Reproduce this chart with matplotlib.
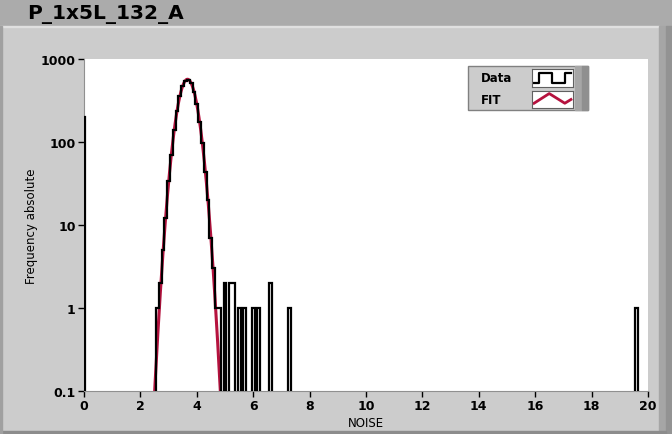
import matplotlib
matplotlib.use("Agg")
import matplotlib.pyplot as plt
import numpy as np
from matplotlib.patches import Rectangle
from matplotlib.ticker import FixedLocator, FixedFormatter, NullLocator

# histogram data (bin width 0.1, only non-empty bins listed)
bin_width = 0.1
bin_centers = [0.0,
               2.6, 2.7, 2.8, 2.9, 3.0, 3.1, 3.2, 3.3, 3.4, 3.5, 3.6, 3.7,
               3.8, 3.9, 4.0, 4.1, 4.2, 4.3, 4.4, 4.5, 4.6, 4.7, 4.8,
               5.0, 5.2, 5.3, 5.5, 5.7, 6.0, 6.2, 6.6, 7.3, 19.6]
counts = [200,
          1, 2, 5, 12, 34, 70, 141, 236, 362, 470, 548, 566,
          515, 405, 288, 172, 97, 44, 20, 7, 3, 1, 1,
          2, 2, 2, 1, 1, 1, 1, 2, 1, 1]

# gaussian fit parameters
fit_amp = 570.0
fit_mu = 3.67
fit_sigma = 0.28

x_ticks = [0, 2, 4, 6, 8, 10, 12, 14, 16, 18, 20]
y_ticks = [0.1, 1, 10, 100, 1000]
y_labels = ["0.1", "1", "10", "100", "1000"]

W, H = 672, 435
def fx(px):
    return px / W
def fy(py):
    return 1 - py / H

fig = plt.figure(figsize=(6.72, 4.35), dpi=100)
fig.patch.set_facecolor("#cccccc")

# frame decoration
fig.add_artist(Rectangle((0, fy(27)), 1, 27 / H, transform=fig.transFigure,
                         color="#ababab", zorder=0))
fig.add_artist(Rectangle((0, fy(28)), fx(659), 1 / H, transform=fig.transFigure,
                         color="#e0e0e0", zorder=0))
fig.add_artist(Rectangle((fx(659), 0), 7 / W, fy(27), transform=fig.transFigure,
                         color="#a6a6a6", zorder=0))
fig.add_artist(Rectangle((fx(666), 0), 6 / W, fy(27), transform=fig.transFigure,
                         color="#939393", zorder=0))
fig.add_artist(Rectangle((0, 0), fx(666), 3 / H, transform=fig.transFigure,
                         color="#8c8c8c", zorder=0))
fig.add_artist(Rectangle((0, 0), 2 / W, fy(27), transform=fig.transFigure,
                         color="#a0a0a0", zorder=0))
fig.text(fx(27), fy(14.5), "P_1x5L_132_A", fontsize=14.5, fontweight="bold",
         va="center", ha="left", color="black")

ax = fig.add_axes([fx(84), fy(392), (648 - 84) / W, (392 - 60) / H])
ax.set_facecolor("white")

# full histogram
n_bins = 200
edges = np.arange(n_bins + 1) * bin_width - bin_width / 2
hist = np.zeros(n_bins)
for c, v in zip(bin_centers, counts):
    hist[int(round(c / bin_width))] = v
ax.stairs(np.where(hist > 0, hist, 1e-3), edges, baseline=None,
          color="black", lw=1.6, zorder=3)

xf = np.linspace(0, 20, 2001)
yf = fit_amp * np.exp(-(xf - fit_mu) ** 2 / (2 * fit_sigma ** 2))
ax.plot(xf, np.maximum(yf, 1e-4), color="#b5123e", lw=2.2, zorder=2)

ax.set_yscale("log")
ax.set_xlim(0, 20)
ax.set_ylim(0.1, 1000)
ax.xaxis.set_major_locator(FixedLocator(x_ticks))
ax.yaxis.set_major_locator(FixedLocator(y_ticks))
ax.yaxis.set_major_formatter(FixedFormatter(y_labels))
ax.yaxis.set_minor_locator(NullLocator())
ax.xaxis.set_minor_locator(NullLocator())
ax.tick_params(direction="out", length=4, width=1, pad=2, labelsize=9)
for lab in ax.get_xticklabels() + ax.get_yticklabels():
    lab.set_fontweight("bold")
for s in ["top", "right"]:
    ax.spines[s].set_visible(False)
for s in ["left", "bottom"]:
    ax.spines[s].set_color("#909090")
ax.set_xlabel("NOISE", fontsize=8.5, labelpad=3)
ax.set_ylabel("Frequency absolute", fontsize=8.5, labelpad=2)

# legend (LabVIEW style plot legend)
lx0, lx1, ly0, ly1 = 468, 588, 67, 111
fig.add_artist(Rectangle((fx(lx0), fy(ly1)), (lx1 - lx0) / W, (ly1 - ly0) / H,
                         transform=fig.transFigure, facecolor="#cccccc",
                         edgecolor="#808080", lw=1, zorder=5))
fig.add_artist(Rectangle((fx(575), fy(ly1)), 7 / W, (ly1 - ly0) / H,
                         transform=fig.transFigure, color="#a6a6a6", zorder=6))
fig.add_artist(Rectangle((fx(582), fy(ly1)), 6 / W, (ly1 - ly0) / H,
                         transform=fig.transFigure, color="#8f8f8f", zorder=6))
fig.text(fx(481), fy(79), "Data", fontsize=8.5, fontweight="bold",
         va="center", zorder=7)
fig.text(fx(481), fy(101), "FIT", fontsize=8.5, fontweight="bold",
         va="center", zorder=7)

def sample_box(top, bottom):
    a = fig.add_axes([fx(532), fy(bottom), (573 - 532) / W, (bottom - top) / H],
                     zorder=8)
    a.set_xlim(0, 1)
    a.set_ylim(0, 1)
    a.set_xticks([])
    a.set_yticks([])
    for s in a.spines.values():
        s.set_color("#606060")
    return a

a1 = sample_box(70, 88)
a1.plot([0.06, 0.18, 0.18, 0.49, 0.49, 0.81, 0.81, 0.94],
        [0.25, 0.25, 0.78, 0.78, 0.25, 0.25, 0.78, 0.78], color="black", lw=1.6)
a2 = sample_box(92, 109)
a2.plot([0.05, 0.42, 0.8, 0.95], [0.28, 0.85, 0.28, 0.5],
        color="#b5123e", lw=2)

fig.savefig("out.png", dpi=100, facecolor=fig.get_facecolor())
